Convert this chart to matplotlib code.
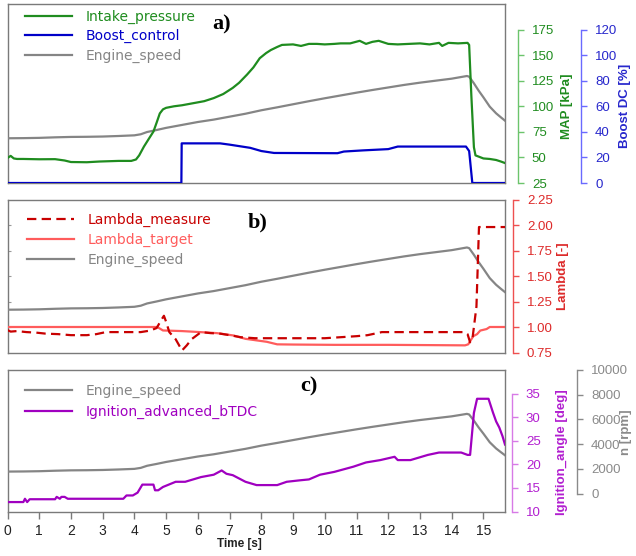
import matplotlib
matplotlib.use("Agg")
import matplotlib.pyplot as plt
import matplotlib.ticker as mticker

plt.rcParams['font.family'] = ['Liberation Sans', 'DejaVu Sans']

# ---------------- data ----------------
# Engine speed [rpm] (shared by all three panels)
eng_t = [0.0, 0.5, 1.0, 1.5, 2.0, 2.5, 3.0, 3.5, 4.0, 4.2, 4.4, 4.7, 5.0, 5.5, 6.0,
         6.5, 7.0, 7.5, 8.0, 8.5, 9.0, 9.5, 10.0, 10.5, 11.0, 11.5, 12.0, 12.5,
         13.0, 13.5, 14.0, 14.48, 14.55, 14.7, 14.85, 15.0, 15.2, 15.4, 15.55, 15.68]
eng_rpm = [1780, 1790, 1810, 1850, 1880, 1890, 1910, 1950, 2000, 2080, 2250, 2400,
           2560, 2780, 3000, 3180, 3400, 3620, 3880, 4100, 4330, 4560, 4780, 4990,
           5200, 5400, 5590, 5780, 5950, 6100, 6250, 6450, 6400, 5900, 5350, 4850,
           4150, 3650, 3350, 3100]

# Intake manifold pressure [kPa]
map_t = [0.0, 0.1, 0.2, 0.3, 0.5, 1.0, 1.5, 1.8, 2.0, 2.5, 2.9, 3.5, 3.9, 4.05,
         4.15, 4.3, 4.45, 4.6, 4.7, 4.8, 4.9, 5.0, 5.25, 5.5, 5.85, 6.2, 6.5, 6.8,
         7.1, 7.3, 7.55, 7.75, 7.95, 8.15, 8.3, 8.5, 8.65, 9.0, 9.25, 9.5, 9.75,
         10.0, 10.3, 10.5, 10.8, 11.1, 11.3, 11.5, 11.7, 12.0, 12.3, 12.65, 13.0,
         13.3, 13.6, 13.7, 13.9, 14.2, 14.5, 14.55, 14.62, 14.7, 14.75, 15.0, 15.2,
         15.4, 15.55, 15.68]
map_kpa = [49.5, 51.5, 49.0, 48.5, 48.5, 48.2, 48.3, 47.0, 45.5, 45.3, 46.0, 46.6,
           46.6, 48.0, 52.0, 60.6, 68.0, 75.3, 84.0, 93.0, 97.0, 98.5, 100.0, 101.0,
           103.0, 105.0, 108.0, 112.0, 118.0, 123.0, 131.0, 138.0, 147.0, 152.0,
           155.0, 158.0, 160.0, 160.5, 159.0, 161.0, 161.0, 160.5, 161.0, 161.5,
           161.5, 164.0, 161.0, 163.0, 164.0, 161.0, 160.5, 161.0, 161.5, 160.5,
           162.0, 159.0, 162.0, 161.5, 162.0, 160.0, 110.0, 60.0, 52.0, 49.0, 48.5,
           47.5, 46.0, 44.5]

# Boost valve duty cycle [%]
boost_t = [0.0, 5.48, 5.49, 6.7, 7.0, 7.65, 8.0, 8.4, 10.4, 10.6, 11.2, 12.0, 12.3,
           14.45, 14.55, 14.65, 15.68]
boost_dc = [0.0, 0.0, 31.0, 31.0, 30.0, 27.5, 25.0, 23.5, 23.3, 24.6, 25.5, 26.5,
            28.5, 28.5, 25.0, 0.0, 0.0]

# Lambda (measured / target) [-]
lm_t = [0.0, 0.1, 0.3, 0.6, 0.9, 1.2, 1.6, 2.0, 2.5, 2.8, 3.1, 3.5, 4.2, 4.5, 4.7,
        4.85, 4.93, 5.0, 5.1, 5.3, 5.5, 5.65, 5.8, 6.1, 6.4, 6.7, 7.0, 7.35, 7.8,
        8.2, 9.0, 10.0, 10.5, 11.0, 11.35, 11.8, 12.5, 13.5, 14.4, 14.5, 14.58,
        14.66, 14.78, 14.86, 15.68]
lm_val = [0.97, 0.955, 0.96, 0.95, 0.945, 0.935, 0.93, 0.92, 0.92, 0.93, 0.95,
          0.95, 0.95, 0.965, 0.99, 1.07, 1.11, 1.05, 0.95, 0.88, 0.77, 0.82, 0.88,
          0.95, 0.94, 0.935, 0.92, 0.90, 0.89, 0.89, 0.89, 0.89, 0.90, 0.91, 0.92,
          0.95, 0.95, 0.95, 0.95, 0.93, 0.85, 0.90, 1.20, 1.98, 1.98]

lt_t = [0.0, 4.72, 4.9, 5.5, 6.07, 6.6, 7.12, 7.5, 8.17, 8.5, 9.0, 10.3, 12.0, 13.5,
        14.42, 14.52, 14.68, 14.8, 14.9, 15.1, 15.2, 15.68]
lt_val = [1.0, 1.0, 0.966, 0.96, 0.95, 0.94, 0.917, 0.884, 0.855, 0.83, 0.828,
          0.825, 0.825, 0.822, 0.82, 0.83, 0.91, 0.93, 0.965, 0.98, 1.0, 1.0]

# Ignition advance before TDC [deg]
ign_t = [0.0, 0.5, 0.55, 0.62, 0.7, 0.85, 1.5, 1.55, 1.65, 1.7, 1.8, 1.9, 3.65,
         3.75, 3.95, 4.1, 4.25, 4.35, 4.6, 4.65, 4.75, 4.9, 5.3, 5.6, 6.1, 6.5,
         6.75, 6.9, 7.1, 7.5, 7.85, 8.5, 8.8, 9.2, 9.5, 9.85, 10.3, 10.9, 11.3,
         11.75, 12.2, 12.3, 12.7, 13.25, 13.6, 14.3, 14.5, 14.58, 14.7, 14.8,
         15.16, 15.3, 15.4, 15.5, 15.6, 15.68]
ign_deg = [12.0, 12.0, 12.7, 12.0, 12.6, 12.6, 12.6, 13.1, 12.7, 13.1, 13.1, 12.7,
           12.7, 13.4, 13.4, 14.0, 15.7, 15.7, 15.7, 14.5, 14.5, 15.2, 16.3, 16.3,
           17.3, 17.8, 18.7, 18.0, 17.7, 16.3, 15.6, 15.6, 16.3, 16.6, 16.8, 17.8,
           18.4, 19.5, 20.4, 20.9, 21.6, 20.9, 20.9, 22.0, 22.5, 22.5, 22.0, 22.0,
           30.9, 33.9, 33.9, 31.0, 29.1, 27.8, 26.0, 24.2]

time_ticks = list(range(0, 16))

# ---------------- styling ----------------
C_MAP = '#1f8c1f'
C_BOOST = '#0000c8'
C_ENG = '#858585'
C_LM = '#c80000'
C_LT = '#ff5c5c'
C_IGN = '#a000c0'
FRAME = '#7a7a7a'
LW = 1.6
TICK_FS = 9.5
LABEL_FS = 9.5

fig = plt.figure(figsize=(6.36, 5.56), dpi=100)
L, W = 7.5 / 636, 497.5 / 636


def panel(top_px, bot_px):
    return fig.add_axes([L, 1 - bot_px / 556, W, (bot_px - top_px) / 556])


def frame(ax):
    for s in ax.spines.values():
        s.set_color(FRAME)
        s.set_linewidth(1.0)
    ax.set_xlim(0, 15.68)


def hidden_twin(ax, ylim):
    t = ax.twinx()
    t.set_ylim(*ylim)
    t.set_yticks([])
    for s in t.spines.values():
        s.set_visible(False)
    return t


def scale_twin(ax, ylim, ticks, pos, spine_col, text_col, label, label_x):
    t = ax.twinx()
    t.set_ylim(*ylim)
    for s in t.spines.values():
        s.set_visible(False)
    sp = t.spines['right']
    sp.set_visible(True)
    sp.set_position(('axes', pos))
    sp.set_bounds(ticks[0], ticks[-1])
    sp.set_color(spine_col)
    sp.set_linewidth(1.0)
    t.set_yticks(ticks)
    t.tick_params(axis='y', direction='out', length=4, width=1.0, pad=6,
                  colors=spine_col, labelcolor=text_col, labelsize=TICK_FS)
    t.set_ylabel(label, color=text_col, fontsize=LABEL_FS, fontweight='bold')
    y0, y1 = ylim
    yc = ((ticks[0] + ticks[-1]) / 2 - y0) / (y1 - y0)
    t.yaxis.set_label_coords(label_x, yc)
    return t


def legend(ax, handles, x, y, spacing):
    leg = ax.legend(handles=handles, loc='upper left', bbox_to_anchor=(x, y),
                    frameon=False, borderpad=0, borderaxespad=0,
                    handlelength=3.4, handletextpad=1.0, labelspacing=spacing,
                    prop={'family': 'DejaVu Sans', 'size': 10})
    for txt, h in zip(leg.get_texts(), handles):
        txt.set_color(h.get_color())
    return leg


def tag(ax, text, x, y):
    ax.text(x, y, text, transform=ax.transAxes, ha='center', va='center',
            fontsize=16, fontweight='bold', family='Liberation Serif', zorder=10)


# ---------------- panel a ----------------
ax_a = panel(4, 183)
frame(ax_a)
ax_a.set_xticks([])
ax_a.set_yticks([])
a_eng = hidden_twin(ax_a, (-1575, 11850))
l_eng_a, = a_eng.plot(eng_t, eng_rpm, color=C_ENG, lw=LW, label='Engine_speed')
a_map = scale_twin(ax_a, (25, 200), [25, 50, 75, 100, 125, 150, 175], 1.026,
                   '#6cc46c', C_MAP, 'MAP [kPa]', 1.1126)
l_map, = a_map.plot(map_t, map_kpa, color=C_MAP, lw=LW, label='Intake_pressure')
a_bst = scale_twin(ax_a, (0, 140), [0, 20, 40, 60, 80, 100, 120], 1.153,
                   '#6a6aff', '#2727cc', 'Boost DC [%]', 1.229)
l_bst, = a_bst.plot(boost_t, boost_dc, color=C_BOOST, lw=LW, label='Boost_control')
legend(a_bst, [l_map, l_bst, l_eng_a], 0.035, 0.97, 0.42)
tag(a_bst, 'a)', 0.431, 0.885)

# ---------------- panel b ----------------
ax_b = panel(199.5, 352.5)
frame(ax_b)
ax_b.set_xticks([])
ax_b.set_ylim(0.75, 2.25)
ax_b.set_yticks([1.0, 1.25, 1.5, 1.75, 2.0])
ax_b.tick_params(axis='y', direction='in', length=2.5, color='#9a9a9a',
                 labelleft=False)
b_eng = hidden_twin(ax_b, (-1430, 10050))
l_eng_b, = b_eng.plot(eng_t, eng_rpm, color=C_ENG, lw=LW, label='Engine_speed')
b_lam = scale_twin(ax_b, (0.75, 2.25), [0.75, 1.0, 1.25, 1.5, 1.75, 2.0, 2.25],
                   1.016, '#ee5050', '#dd2a2a', 'Lambda [-]', 1.1045)
b_lam.yaxis.set_major_formatter(mticker.FormatStrFormatter('%.2f'))
l_lt, = b_lam.plot(lt_t, lt_val, color=C_LT, lw=LW, label='Lambda_target')
l_lm, = b_lam.plot(lm_t, lm_val, color=C_LM, lw=LW, ls=(0, (4.2, 2.4)),
                   label='Lambda_measure')
legend(b_lam, [l_lm, l_lt, l_eng_b], 0.039, 0.915, 0.45)
tag(b_lam, 'b)', 0.503, 0.853)

# ---------------- panel c ----------------
ax_c = panel(370, 511.5)
frame(ax_c)
ax_c.set_yticks([])
ax_c.set_xticks(time_ticks)
ax_c.tick_params(axis='x', direction='out', length=5, width=1.0, color=FRAME,
                 pad=4, labelsize=10, labelcolor='#222222')
ax_c.set_xlabel('Time [s]', fontsize=8.5, fontweight='bold', color='#222222')
ax_c.xaxis.set_label_coords(0.467, -0.19)
c_eng = scale_twin(ax_c, (-1450, 10000), [0, 2000, 4000, 6000, 8000, 10000],
                   1.145, '#8a8a8a', '#8a8a8a', 'n [rpm]', 1.232)
l_eng_c, = c_eng.plot(eng_t, eng_rpm, color=C_ENG, lw=LW, label='Engine_speed')
c_ign = scale_twin(ax_c, (10, 40), [10, 15, 20, 25, 30, 35], 1.014,
                   '#d77ae6', '#b21fd0', 'Ignition_angle [deg]', 1.1025)
l_ign, = c_ign.plot(ign_t, ign_deg, color=C_IGN, lw=LW,
                    label='Ignition_advanced_bTDC')
legend(c_ign, [l_eng_c, l_ign], 0.035, 0.905, 0.5)
tag(c_ign, 'c)', 0.606, 0.88)

fig.savefig('out.png', dpi=100)
